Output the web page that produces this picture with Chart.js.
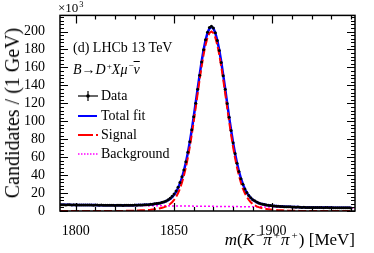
<!DOCTYPE html>
<html>
<head>
<meta charset="utf-8">
<script src="https://cdn.jsdelivr.net/npm/chart.js@4/dist/chart.umd.min.js"></script>
<style>
  html, body { margin: 0; padding: 0; background: #fff; }
  #wrap { position: relative; width: 374px; height: 253px; font-family: "Liberation Serif", serif; color: #000; overflow: hidden; }
  #wrap canvas { position: absolute; left: 0; top: 0; }
  .lbl { position: absolute; white-space: nowrap; line-height: 1; }
  .lbl sup { font-size: 0.65em; vertical-align: 0.55em; line-height: 0; padding-left: 1px; }
  .xt sup { padding-left: 2px; padding-right: 1px; }
  .leg { position: absolute; left: 77px; height: 14px; }
  .leg svg { position: absolute; left: 0; top: 1px; }
  .leg span { position: absolute; left: 24px; top: 0; font-size: 14px; line-height: 1; white-space: nowrap; }
  .ov { text-decoration: overline; }
</style>
</head>
<body>
<div id="wrap">
  <canvas id="massChart" width="374" height="253"></canvas>

  <div class="lbl" style="left:58px; top:1px; font-size:13px;">×10<sup>3</sup></div>
  <div class="lbl" style="left:12px; top:113px; font-size:20px; transform: translate(-50%, -50%) rotate(-90deg);">Candidates / (1 GeV)</div>
  <div class="lbl xt" style="right:19px; top:231px; font-size:17px;"><i>m</i>(<i>K</i><sup>−</sup><i>π</i><sup>+</sup><i>π</i><sup>+</sup>) [MeV]</div>

  <div class="lbl" style="left:73px; top:41px; font-size:14px;">(d) LHCb 13 TeV</div>
  <div class="lbl" style="left:73px; top:63px; font-size:14px;"><i>B</i>→<i>D</i><sup>+</sup><i>X</i><i>μ</i><sup>−</sup><i class="ov">ν</i></div>

  <div class="leg" style="top:89px;">
    <svg width="22" height="12"><line x1="1" y1="6" x2="21" y2="6" stroke="#000" stroke-width="1.2"/><line x1="11" y1="1" x2="11" y2="11" stroke="#000" stroke-width="1.2"/><circle cx="11" cy="6" r="1.8" fill="#000"/></svg>
    <span>Data</span>
  </div>
  <div class="leg" style="top:109px;">
    <svg width="22" height="12"><line x1="1" y1="6" x2="20" y2="6" stroke="#0000ff" stroke-width="2"/></svg>
    <span>Total fit</span>
  </div>
  <div class="leg" style="top:128px;">
    <svg width="22" height="12"><line x1="1" y1="6" x2="16" y2="6" stroke="#ff0000" stroke-width="2"/><line x1="19" y1="6" x2="21" y2="6" stroke="#ff0000" stroke-width="2"/></svg>
    <span>Signal</span>
  </div>
  <div class="leg" style="top:147px;">
    <svg width="22" height="12"><line x1="1" y1="6" x2="21" y2="6" stroke="#ff00ff" stroke-width="1.5" stroke-dasharray="1.5,1.5"/></svg>
    <span>Background</span>
  </div>
</div>

<script>
// bin centres, 1 MeV wide
const massBins = [
  1792, 1793, 1794, 1795, 1796, 1797, 1798, 1799, 1800, 1801,
  1802, 1803, 1804, 1805, 1806, 1807, 1808, 1809, 1810, 1811,
  1812, 1813, 1814, 1815, 1816, 1817, 1818, 1819, 1820, 1821,
  1822, 1823, 1824, 1825, 1826, 1827, 1828, 1829, 1830, 1831,
  1832, 1833, 1834, 1835, 1836, 1837, 1838, 1839, 1840, 1841,
  1842, 1843, 1844, 1845, 1846, 1847, 1848, 1849, 1850, 1851,
  1852, 1853, 1854, 1855, 1856, 1857, 1858, 1859, 1860, 1861,
  1862, 1863, 1864, 1865, 1866, 1867, 1868, 1869, 1870, 1871,
  1872, 1873, 1874, 1875, 1876, 1877, 1878, 1879, 1880, 1881,
  1882, 1883, 1884, 1885, 1886, 1887, 1888, 1889, 1890, 1891,
  1892, 1893, 1894, 1895, 1896, 1897, 1898, 1899, 1900, 1901,
  1902, 1903, 1904, 1905, 1906, 1907, 1908, 1909, 1910, 1911,
  1912, 1913, 1914, 1915, 1916, 1917, 1918, 1919, 1920, 1921,
  1922, 1923, 1924, 1925, 1926, 1927, 1928, 1929, 1930, 1931,
  1932, 1933, 1934, 1935, 1936, 1937, 1938, 1939, 1940
];

// candidates (x10^3) per bin
const dataCounts = [
  7.1, 6.9, 7.0, 6.8, 6.9, 7.0, 6.8, 6.9, 6.7, 6.8,
  6.8, 6.7, 6.6, 6.8, 6.7, 6.6, 6.7, 6.5, 6.6, 6.6,
  6.4, 6.6, 6.5, 6.4, 6.5, 6.3, 6.4, 6.4, 6.2, 6.4,
  6.3, 6.4, 6.2, 6.4, 6.5, 6.3, 6.5, 6.4, 6.6, 6.5,
  6.7, 6.8, 6.7, 7.0, 7.1, 7.0, 7.4, 7.6, 8.0, 8.3,
  8.6, 9.0, 9.7, 10.3, 11.2, 12.6, 14.2, 16.3, 18.9, 22.4,
  26.6, 31.9, 38.1, 45.8, 55.0, 65.4, 77.2, 90.6, 105.0, 120.1,
  135.8, 151.2, 166.0, 179.6, 190.8, 199.2, 204.6, 206.0, 204.0, 198.6,
  190.0, 178.9, 165.6, 150.8, 135.6, 119.8, 104.5, 89.6, 76.1, 64.0,
  53.1, 44.0, 36.0, 29.9, 24.6, 20.6, 17.3, 14.8, 12.6, 11.3,
  9.9, 9.0, 8.2, 7.6, 7.2, 6.7, 6.4, 6.1, 5.8, 5.6,
  5.4, 5.3, 5.1, 5.0, 4.8, 4.8, 4.6, 4.6, 4.4, 4.4,
  4.3, 4.4, 4.2, 4.0, 4.1, 4.0, 3.9, 4.0, 3.9, 3.9,
  3.8, 3.9, 3.8, 3.9, 3.7, 3.8, 3.8, 3.7, 3.8, 3.7,
  3.6, 3.7, 3.6, 3.6, 3.5, 3.6, 3.5, 3.5, 3.4
];

const totalFit = [
  7.0, 6.9, 6.9, 6.9, 6.9, 6.9, 6.8, 6.8, 6.8, 6.8,
  6.7, 6.7, 6.7, 6.7, 6.7, 6.6, 6.6, 6.6, 6.6, 6.5,
  6.5, 6.5, 6.5, 6.4, 6.4, 6.4, 6.4, 6.3, 6.3, 6.3,
  6.3, 6.3, 6.3, 6.4, 6.4, 6.4, 6.4, 6.4, 6.5, 6.6,
  6.6, 6.7, 6.8, 6.9, 7.0, 7.1, 7.3, 7.6, 7.9, 8.1,
  8.4, 8.9, 9.4, 10.0, 10.9, 12.1, 13.5, 15.4, 18.0, 21.2,
  25.3, 30.6, 36.9, 44.7, 54.0, 64.7, 76.9, 90.4, 105.1, 120.6,
  136.3, 151.7, 166.3, 179.4, 190.3, 198.4, 203.5, 205.2, 203.5, 198.3,
  190.1, 179.2, 166.1, 151.4, 136.0, 120.2, 104.7, 90.0, 76.4, 64.1,
  53.4, 44.1, 36.2, 29.8, 24.5, 20.4, 17.1, 14.5, 12.5, 11.1,
  9.8, 8.9, 8.2, 7.7, 7.2, 6.8, 6.5, 6.2, 5.9, 5.6,
  5.5, 5.3, 5.2, 5.0, 4.9, 4.8, 4.7, 4.6, 4.5, 4.4,
  4.4, 4.4, 4.2, 4.1, 4.1, 4.0, 4.0, 4.0, 4.0, 3.9,
  3.9, 3.9, 3.9, 3.9, 3.8, 3.8, 3.8, 3.8, 3.8, 3.7,
  3.7, 3.7, 3.7, 3.6, 3.6, 3.6, 3.6, 3.5, 3.5
];

const signalFit = [
  0, 0, 0, 0, 0, 0, 0, 0, 0, 0,
  0, 0, 0, 0, 0, 0, 0, 0, 0, 0,
  0, 0, 0, 0, 0, 0, 0, 0, 0, 0,
  0.1, 0.1, 0.1, 0.2, 0.2, 0.2, 0.3, 0.3, 0.4, 0.5,
  0.6, 0.7, 0.8, 0.9, 1.1, 1.2, 1.4, 1.7, 2.0, 2.3,
  2.6, 3.1, 3.6, 4.3, 5.2, 6.4, 7.8, 9.8, 12.4, 15.6,
  19.7, 25.0, 31.4, 39.2, 48.5, 59.2, 71.5, 85.0, 99.7, 115.2,
  131.0, 146.4, 161.0, 174.1, 185.0, 193.2, 198.3, 200.0, 198.3, 193.2,
  185.0, 174.1, 161.0, 146.4, 131.0, 115.2, 99.7, 85.0, 71.5, 59.2,
  48.5, 39.2, 31.4, 25.0, 19.7, 15.6, 12.4, 9.8, 7.8, 6.4,
  5.2, 4.3, 3.6, 3.1, 2.6, 2.3, 2.0, 1.7, 1.4, 1.2,
  1.1, 0.9, 0.8, 0.7, 0.6, 0.5, 0.4, 0.3, 0.3, 0.2,
  0.2, 0.2, 0.1, 0.1, 0.1, 0, 0, 0, 0, 0,
  0, 0, 0, 0, 0, 0, 0, 0, 0, 0,
  0, 0, 0, 0, 0, 0, 0, 0, 0
];

// background is a straight line across the window
const bkgMass = [1792, 1942];
const bkgValues = [7.0, 3.5];

const xTicks = [1800, 1850, 1900];
const yTicks = [0, 20, 40, 60, 80, 100, 120, 140, 160, 180, 200];

const xMin = 1792, xMax = 1942;
const yMin = 0, yMax = 218;

const toPoints = (xs, ys) => xs.map((x, i) => ({ x: x, y: ys[i] }));

// frame with inward ticks on all four sides, LHCb style
const frameTicks = {
  id: "frameTicks",
  afterDraw(chart) {
    const { ctx, chartArea: a, scales } = chart;
    const x = scales.x, y = scales.y;
    ctx.save();
    ctx.strokeStyle = "#000";
    ctx.lineWidth = 1.2;
    ctx.beginPath();
    for (let v = 1800; v <= xMax; v += 10) {
      const px = Math.round(x.getPixelForValue(v)) + 0.5;
      const len = v % 50 === 0 ? 8 : 4;
      ctx.moveTo(px, a.bottom); ctx.lineTo(px, a.bottom - len);
      ctx.moveTo(px, a.top); ctx.lineTo(px, a.top + len);
    }
    for (let v = 0; v <= yMax; v += 4) {
      const py = Math.round(y.getPixelForValue(v)) + 0.5;
      const len = v % 20 === 0 ? 8 : 4;
      ctx.moveTo(a.left, py); ctx.lineTo(a.left + len, py);
      ctx.moveTo(a.right, py); ctx.lineTo(a.right - len, py);
    }
    ctx.stroke();
    ctx.lineWidth = 1.5;
    ctx.strokeRect(a.left, a.top, a.right - a.left, a.bottom - a.top);
    ctx.restore();
  }
};

const tickFont = { family: "Liberation Serif", size: 14 };

new Chart(document.getElementById("massChart"), {
  type: "line",
  data: {
    datasets: [
      {
        label: "Data",
        data: toPoints(massBins, dataCounts),
        showLine: false,
        pointRadius: 1.5,
        pointBackgroundColor: "#000",
        pointBorderWidth: 0,
        order: 0
      },
      {
        label: "Signal",
        data: toPoints(massBins, signalFit),
        borderColor: "#ff0000",
        borderWidth: 2,
        borderDash: [8, 3],
        pointRadius: 0,
        tension: 0,
        order: 1
      },
      {
        label: "Total fit",
        data: toPoints(massBins, totalFit),
        borderColor: "#0000ff",
        borderWidth: 2.5,
        pointRadius: 0,
        tension: 0,
        order: 2
      },
      {
        label: "Background",
        data: toPoints(bkgMass, bkgValues),
        borderColor: "#ff00ff",
        borderWidth: 1.5,
        borderDash: [2, 2],
        pointRadius: 0,
        order: 3
      }
    ]
  },
  options: {
    responsive: false,
    animation: false,
    devicePixelRatio: 1,
    layout: { padding: { left: 0, top: 15, right: 19, bottom: 0 } },
    scales: {
      x: {
        type: "linear",
        min: xMin,
        max: xMax,
        afterBuildTicks: s => { s.ticks = xTicks.map(v => ({ value: v })); },
        afterFit: s => { s.height = 42; },
        grid: { display: false },
        border: { display: false },
        ticks: { color: "#000", font: tickFont, padding: 4, maxRotation: 0, autoSkip: false, callback: v => String(v) }
      },
      y: {
        min: yMin,
        max: yMax,
        afterBuildTicks: s => { s.ticks = yTicks.map(v => ({ value: v })); },
        afterFit: s => { s.width = 60; },
        grid: { display: false },
        border: { display: false },
        ticks: { color: "#000", font: tickFont, padding: 7, autoSkip: false, callback: v => String(v) }
      }
    },
    plugins: {
      legend: { display: false },
      tooltip: { enabled: false }
    }
  },
  plugins: [frameTicks]
});
</script>
</body>
</html>
